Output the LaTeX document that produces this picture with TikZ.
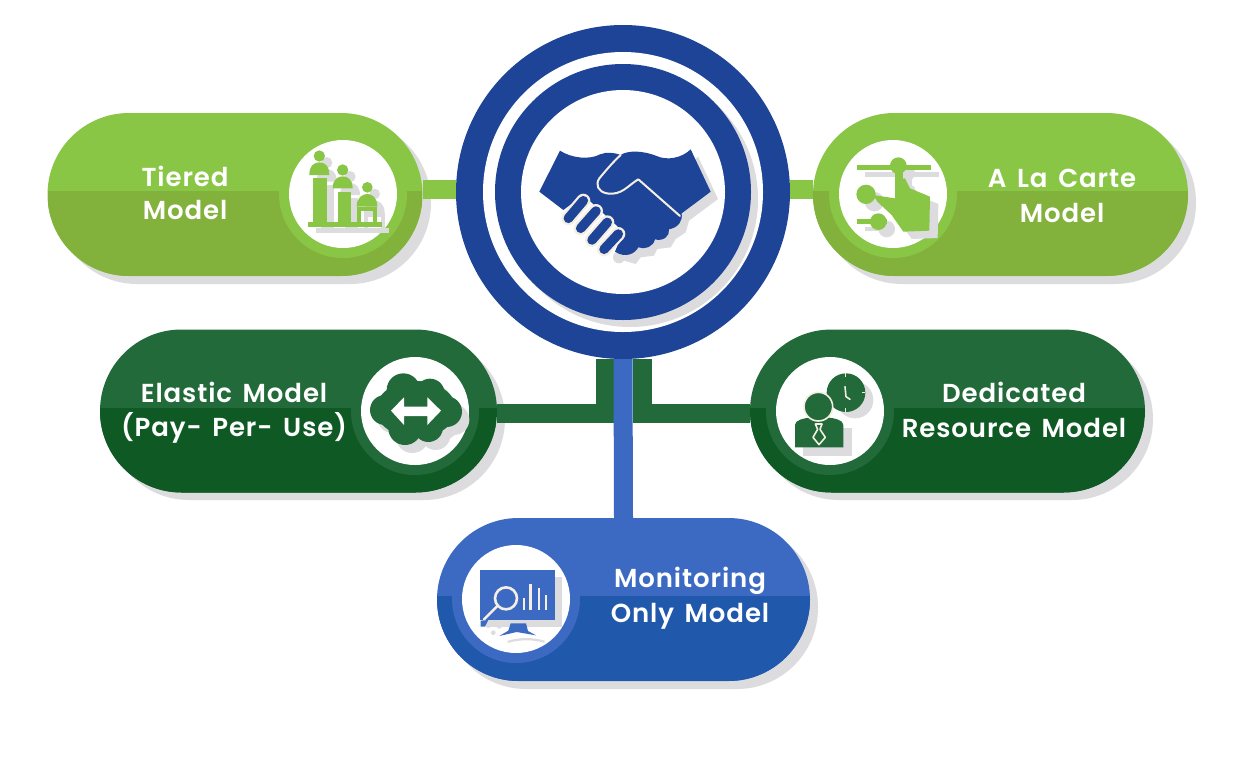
\documentclass[tikz,border=0pt]{standalone}
\usepackage{fontspec}
\setmainfont{Poppins}
\newfontfamily\labfont{Poppins SemiBold}[LetterSpace=3.5,WordSpace=1.5]
\usetikzlibrary{shapes.misc}
\definecolor{limeT}{HTML}{8AC646}
\definecolor{limeB}{HTML}{82B13C}
\definecolor{forestT}{HTML}{226A3A}
\definecolor{forestB}{HTML}{0F5A24}
\definecolor{blueT}{HTML}{3C6AC3}
\definecolor{blueB}{HTML}{2058AC}
\definecolor{hubblue}{HTML}{1D4496}
\definecolor{softgray}{HTML}{DCDCDF}
\definecolor{cream}{HTML}{F5EEE2}
\pgfdeclarelayer{shadelayer}
\pgfdeclarelayer{connlayer}
\pgfsetlayers{shadelayer,connlayer,main}
\tikzset{
  pill/.style n args={3}{shape=rounded rectangle,minimum width=#3,minimum height=163pt,inner sep=0pt,fill=#1,
    path picture={\fill[#2] ([yshift=3.5pt]path picture bounding box.west) rectangle (path picture bounding box.south east);}},
  disc/.style={circle,inner sep=0pt,fill=white,minimum size=108pt},
  halo/.style={circle,inner sep=0pt,fill=#1,minimum size=128pt},
  label/.style={text=white,font=\labfont\fontsize{26}{26}\selectfont,inner sep=0pt,anchor=center},
  conn/.style={line width=19pt,draw=#1},
  shadowfill/.style={fill=softgray},
}
\newcommand{\tieredicon}[1]{%
  \fill[#1] (838,168) circle (17);
  \fill[#1] (808,225) .. controls (808,195) and (825,187) .. (838,187) .. controls (852,187) and (868,195) .. (868,225) -- cycle;
  \fill[#1] (820,235) rectangle (860,365);
  \fill[#1] (908,210) circle (17);
  \fill[#1] (878,265) .. controls (878,237) and (895,229) .. (908,229) .. controls (922,229) and (938,237) .. (938,265) -- cycle;
  \fill[#1] (893,275) rectangle (932,365);
  \fill[#1] (982,262) circle (16);
  \fill[#1] (950,320) .. controls (950,292) and (968,282) .. (982,282) .. controls (996,282) and (1012,292) .. (1012,320) -- cycle;
  \fill[#1] (950,320) rectangle (1012,332);
  \fill[#1] (950,332) rectangle (962,365);
  \fill[#1] (1000,332) rectangle (1012,365);
  \fill[#1] (805,365) rectangle (1025,380);
}
\newcommand{\carteicon}[1]{%
  \fill[#1] (200,195) rectangle (422,209);
  \fill[#1] (325,197) circle (25);
  \fill[#1] (315,215) rectangle (340,295);
  \fill[#1] (228,283) circle (29);
  \fill[#1] (200,358) rectangle (290,372);
  \fill[#1] (265,365) circle (25);
  \fill[#1] (250,285) -- (315,295) -- (318,240) -- (345,235) -- (360,265) -- (420,290) -- (418,392) -- (340,395) -- (305,345) -- (262,305) -- cycle;
}
\newcommand{\cloudicon}[1]{%
  \fill[#1] (190,150) circle (50);
  \fill[#1] (270,160) circle (44);
  \fill[#1] (135,210) circle (45);
  \fill[#1] (320,215) circle (46);
  \fill[#1] (195,265) circle (50);
  \fill[#1] (265,262) circle (44);
  \fill[#1] (228,208) ellipse (120 and 85);
}
\begin{document}
\begin{tikzpicture}[x=1pt,y=-1pt]
\useasboundingbox (0,0) rectangle (1248,764);
% drop shadows
\begin{pgfonlayer}{shadelayer}
  \fill[white] (0,0) rectangle (1248,764);
  \fill[shadowfill,rounded corners=81pt] (56,121) rectangle (431,284);
  \fill[shadowfill,rounded corners=81pt] (821,121) rectangle (1196,284);
  \fill[shadowfill,rounded corners=81pt] (108,338) rectangle (505,500);
  \fill[shadowfill,rounded corners=81pt] (758,338) rectangle (1153,500);
  \fill[shadowfill,rounded corners=81pt] (445,526) rectangle (818,689);
\end{pgfonlayer}
% hub
\node[circle,inner sep=0pt,fill=hubblue,minimum size=334pt] (hub) at (623,192) {};
\fill[white] (hub.center) circle (140);
\fill[softgray] ([shift={(7pt,-7pt)}]hub.center) circle (128);
\fill[hubblue] (hub.center) circle (128);
\fill[white] (hub.center) circle (102);
% handshake
\begin{scope}[shift={(500,110)},scale=1/3]
  \begin{scope}[shift={(22,22)}]
    \fill[softgray] (572,118) -- (632,245) -- (545,310) -- (535,345) -- (505,365) -- (490,390) -- (450,395) -- (440,415) -- (400,420) -- (385,440) -- (350,430) -- (370,300) -- cycle;
    \fill[softgray] (335,420) circle (18);
  \end{scope}
  \fill[hubblue] (180,122) .. controls (215,145) and (270,150) .. (300,133) .. controls (320,125) and (345,128) .. (362,135)
     .. controls (385,120) and (430,122) .. (470,138) .. controls (500,152) and (545,145) .. (572,118)
     -- (632,245) -- (545,310) .. controls (548,335) and (535,352) .. (507,358) .. controls (510,378) and (490,395) .. (465,388)
     .. controls (460,410) and (435,420) .. (415,412) .. controls (405,432) and (375,445) .. (345,425)
     -- (370,365) -- (250,255) -- (190,300) -- (118,245) -- cycle;
  \draw[cream,line width=2pt,line cap=round,line join=round,fill=hubblue] (362,135)
     .. controls (335,160) and (315,185) .. (298,205) .. controls (285,225) and (295,245) .. (320,250)
     .. controls (365,258) and (385,225) .. (415,208) -- (540,318);
  \foreach \a/\b/\c/\d in {250/272/205/325, 288/303/242/355, 322/337/276/390, 355/372/312/418}{
    \draw[cream,line width=14pt,line cap=round] (\a,\b) -- (\c,\d);
  }
  \foreach \a/\b/\c/\d in {250/272/205/325, 288/303/242/355, 322/337/276/390, 355/372/312/418}{
    \draw[hubblue,line width=9.5pt,line cap=round] (\a,\b) -- (\c,\d);
  }
\end{scope}
% pills
\node[pill={limeT}{limeB}{375pt}] (tiered) at (235,194.5) {};
\node[pill={limeT}{limeB}{375pt}] (carte) at (1000.5,194.5) {};
\node[pill={forestT}{forestB}{397pt}] (elastic) at (298.5,411) {};
\node[pill={forestT}{forestB}{395pt}] (dedicated) at (947.5,411) {};
\node[pill={blueT}{blueB}{373pt}] (monitoring) at (623.5,599.5) {};
% icon discs
\node[halo=limeT] (h1) at (343,194) {}; \node[disc] (d1) at (343,194) {};
\node[halo=limeT] (h2) at (893,194) {}; \node[disc] (d2) at (893,194) {};
\node[halo=forestT] (h3) at (415,411) {}; \node[disc] (d3) at (415,411) {};
\node[halo=forestT] (h4) at (830,411) {}; \node[disc] (d4) at (830,411) {};
\node[halo=blueT] (h5) at (516,599) {}; \node[disc] (d5) at (516,599) {};
% connectors
\begin{pgfonlayer}{connlayer}
  \draw[conn=limeT] ([yshift=5pt]tiered.east) -- ([yshift=2.5pt]hub.west);
  \draw[conn=limeT] ([yshift=2.5pt]hub.east) -- ([yshift=5pt]carte.west);
  \draw[conn=forestT,line join=miter] ([xshift=-18pt]hub.south) |- ([yshift=-2.5pt]elastic.east);
  \draw[conn=forestT,line join=miter] ([xshift=19pt]hub.south) |- ([yshift=-2.5pt]dedicated.west);
  \draw[conn=blueT] (hub.south) -- (monitoring.north);
\end{pgfonlayer}
% tiered icon
\begin{scope}[shift={(40,100)},scale=1/3]
  \begin{scope}[shift={(22,20)}]\tieredicon{softgray}\end{scope}
  \tieredicon{limeT}
\end{scope}
% a la carte icon
\begin{scope}[shift={(790,100)},scale=1/3]
  \begin{scope}[shift={(25,22)}]\carteicon{softgray}\end{scope}
  \carteicon{limeT}
\end{scope}
% cloud icon
\begin{scope}[shift={(340,340)},scale=1/3]
  \begin{scope}[shift={(22,24)}]\cloudicon{softgray}\end{scope}
  \cloudicon{forestT}
  \fill[white] (153,212) -- (192,172) -- (192,200) -- (262,200) -- (262,172) -- (303,212) -- (262,255) -- (262,228) -- (192,228) -- (192,255) -- cycle;
\end{scope}
% dedicated icon
\begin{scope}[shift={(740,340)},scale=1/3]
  \fill[softgray] (345,180) circle (55);
  \fill[softgray] (190,265) rectangle (335,348);
  \fill[forestT] (318,158) circle (58);
  \draw[cream,line width=1.6pt,line cap=round,line join=round] (315,140) -- (318,170) -- (330,178);
  \draw[cream,line width=1.4pt] (316,100) -- (316,112) (316,204) -- (316,216) (365,158) -- (376,158);
  \fill[forestT] (165,322) -- (165,255) .. controls (165,240) and (190,235) .. (215,232) -- (260,232) .. controls (285,235) and (310,240) .. (310,255) -- (310,322) -- cycle;
  \draw[cream,line width=1.6pt,fill=forestT] (235,200) circle (43);
  \draw[cream,line width=1.6pt,line join=round] (226,252) -- (246,252) -- (240,268) -- (256,292) -- (237,314) -- (219,292) -- (233,268) -- cycle;
\end{scope}
% monitoring icon
\begin{scope}[shift={(440,510)},scale=1/3]
  \fill[softgray] (140,200) rectangle (365,350);
  \draw[softgray,line width=2.2pt,line cap=round] (205,395) .. controls (240,385) and (280,385) .. (312,395);
  \fill[softgray] (145,345) circle (9) (178,348) circle (8) (160,368) circle (7);
  \fill[blueT] (120,180) rectangle (345,330);
  \draw[cream,line width=2.6pt,line cap=round] (172,288) -- (132,328);
  \draw[cream,line width=2.6pt] (198,265) circle (33);
  \foreach \xa/\ya in {252/265,272/222,297/235,318/255}{
    \draw[cream,line width=2.6pt] (\xa,\ya) -- (\xa,300);
  }
  \fill[blueT] (122,332) -- (145,330) -- (135,350) -- (122,350) -- cycle;
  \fill[blueT] (212,340) -- (258,340) -- (264,363) -- (288,376) -- (230,366) -- (178,378) -- (205,362) -- cycle;
\end{scope}
% labels
\node[label] (t1) at (185,176) {Tiered};
\node[label] (t2) at (185,210) {Model};
\node[label] (t3) at (1062,178) {A La Carte};
\node[label] (t4) at (1062,213) {Model};
\node[label] (t5) at (234,392) {Elastic Model};
\node[label] (t6) at (234,428) {(Pay- Per- Use)};
\node[label] (t7) at (1014,392) {Dedicated};
\node[label] (t8) at (1014,428) {Resource Model};
\node[label] (t9) at (690,581) {Monitoring};
\node[label] (t10) at (690,616) {Only Model};
\end{tikzpicture}
\end{document}
